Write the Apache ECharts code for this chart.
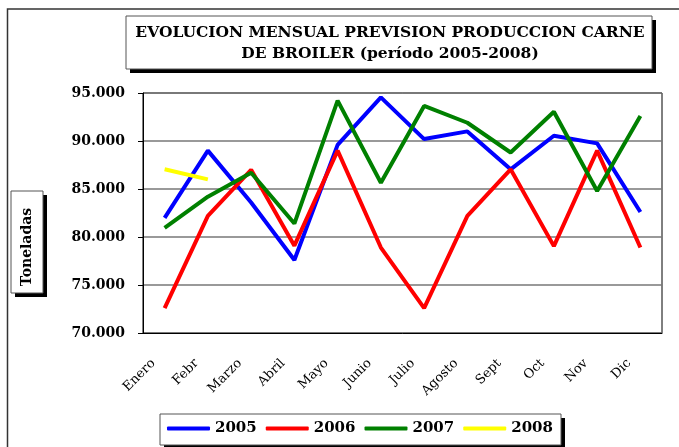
<!DOCTYPE html>
<html>
<head>
<meta charset="utf-8">
<script src="https://cdn.jsdelivr.net/npm/echarts@6/dist/echarts.min.js"></script>
<style>
  html, body { margin: 0; padding: 0; background: #fff; }
  #chart { width: 679px; height: 447px; }
</style>
</head>
<body>
<div id="chart"></div>
<script>
const meses = ["Enero", "Febr", "Marzo", "Abril", "Mayo", "Junio", "Julio", "Agosto", "Sept", "Oct", "Nov", "Dic"];
const anios = ["2005", "2006", "2007", "2008"];
const colores = ["#0000ff", "#ff0000", "#008000", "#ffff00"];

const datos2005 = [82000, 89000, 83600, 77600, 89600, 94550, 90200, 91000, 87050, 90550, 89750, 82600];
const datos2006 = [72600, 82200, 87000, 79100, 89000, 78900, 72600, 82200, 87050, 79050, 89000, 78900];
const datos2007 = [80950, 84200, 86700, 81400, 94200, 85650, 93650, 91900, 88800, 93050, 84800, 92600];
const datos2008 = [87050, 86000];

const ticksY = { min: 70000, max: 95000, interval: 5000 };

const serif = "DejaVu Serif";
const chart = echarts.init(document.getElementById("chart"));

// caja blanca con sombra negra desplazada (como en Excel)
function caja(x, y, w, h, z) {
  return [
    { type: "rect", z: z, shape: { x: x + 4, y: y + 4, width: w, height: h }, style: { fill: "#000" } },
    { type: "rect", z: z, shape: { x: x, y: y, width: w, height: h }, style: { fill: "#fff", stroke: "#555", lineWidth: 1 } },
  ];
}

const series = [datos2005, datos2006, datos2007, datos2008].map((d, i) => ({
  name: anios[i],
  type: "line",
  data: d,
  symbol: "none",
  lineStyle: { width: 4, color: colores[i] },
  itemStyle: { color: colores[i] },
}));

chart.setOption({
  animation: false,
  backgroundColor: "#fff",
  title: {
    text: "EVOLUCION MENSUAL PREVISION PRODUCCION CARNE\nDE BROILER (período 2005-2008)",
    left: 385,
    top: 17,
    textAlign: "center",
    z: 10,
    textStyle: { fontFamily: serif, fontWeight: "bold", fontSize: 15.5, lineHeight: 21, color: "#000" },
  },
  graphic: [
    // marco exterior
    { type: "polyline", z: -1, shape: { points: [[7.5, 447], [7.5, 9], [679, 9]] }, style: { stroke: "#333", lineWidth: 1.5, fill: null } },
    ...caja(126, 16, 526, 53, -1),
    ...caja(11, 191, 32, 102, 1),
    ...caja(160, 414, 401, 31, -1),
    { type: "text", z: 2, x: 27, y: 247, rotation: Math.PI / 2, style: { text: "Toneladas", fontFamily: serif, fontWeight: "bold", fontSize: 14, fill: "#000", align: "center", verticalAlign: "middle" } },
  ],
  legend: {
    data: anios,
    left: 160,
    top: 414,
    padding: [7, 7],
    itemGap: 9,
    itemWidth: 43,
    itemHeight: 4,
    icon: "roundRect",
    textStyle: { fontFamily: serif, fontWeight: "bold", fontSize: 15, color: "#000" },
  },
  grid: { left: 143, right: 17, top: 93, bottom: 114, show: true, borderColor: "#000", borderWidth: 1 },
  xAxis: {
    type: "category",
    data: meses,
    axisLine: { lineStyle: { color: "#000", width: 1 } },
    axisTick: { length: 5, lineStyle: { color: "#000" } },
    axisLabel: {
      rotate: 45,
      margin: 17,
      padding: [0, 16, 0, 0],
      fontFamily: serif,
      fontSize: 13,
      color: "#000",
      interval: 0,
    },
  },
  yAxis: {
    type: "value",
    min: ticksY.min,
    max: ticksY.max,
    interval: ticksY.interval,
    axisLine: { show: true, lineStyle: { color: "#000", width: 1 } },
    axisTick: { show: true, length: 5, lineStyle: { color: "#000" } },
    splitLine: { lineStyle: { color: "#777", width: 1.5 } },
    axisLabel: {
      margin: 18,
      fontFamily: serif,
      fontWeight: "bold",
      fontSize: 14,
      color: "#000",
      formatter: (v) => (v / 1000).toFixed(3),
    },
  },
  series: series,
});
</script>
</body>
</html>
